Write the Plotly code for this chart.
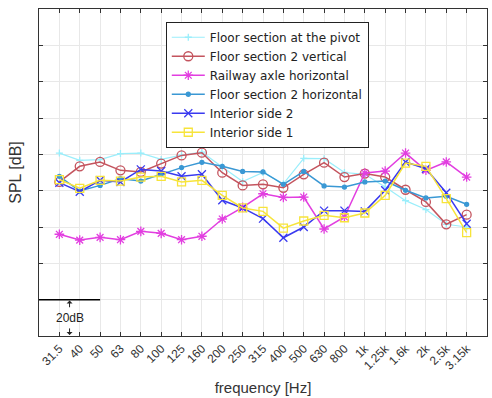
import plotly.graph_objects as go

categories = ["31.5", "40", "50", "63", "80", "100", "125", "160", "200", "250", "315",
              "400", "500", "630", "800", "1k", "1.25k", "1.6k", "2k", "2.5k", "3.15k"]

pivot = [100.7, 96.7, 97.1, 100.4, 100.7, 97.2, 99.6, 101.2, 93.0, 85.0, 90.0,
         83.8, 97.8, 97.6, 90.0, 89.0, 82.0, 74.5, 69.6, 61.5, 60.0]
floor2_vert = [84.8, 93.4, 95.8, 91.2, 90.3, 94.9, 99.4, 100.9, 89.9, 82.9, 83.5,
               81.6, 89.0, 95.4, 87.5, 89.4, 87.5, 80.5, 73.8, 61.5, 66.8]
axle_horiz = [56.0, 52.8, 54.3, 53.0, 57.6, 56.5, 53.0, 54.9, 64.4, 70.8, 78.3,
              76.3, 76.5, 58.9, 65.5, 89.7, 90.8, 100.7, 91.2, 95.8, 87.5]
floor2_horiz = [87.9, 79.8, 82.9, 86.6, 85.3, 89.0, 92.7, 95.6, 93.4, 90.6, 90.3,
                83.5, 90.6, 82.6, 82.0, 84.8, 85.3, 80.2, 76.0, 76.9, 72.5]
interior2 = [84.4, 79.4, 85.7, 84.8, 91.7, 90.8, 87.9, 89.0, 74.7, 70.5, 64.6,
             54.1, 60.0, 69.0, 69.0, 68.6, 80.2, 95.8, 92.1, 78.9, 61.8]
interior1 = [86.1, 81.3, 85.7, 85.3, 87.5, 87.9, 84.8, 85.7, 77.4, 70.5, 68.6,
             59.4, 63.3, 66.4, 65.1, 67.7, 77.4, 95.2, 93.4, 75.6, 56.9]

series = [
    ("Floor section at the pivot", pivot, "#9aeefb", "cross-thin-open", 5, 1.2),
    ("Floor section 2 vertical", floor2_vert, "#c4545e", "circle-open", 9, 1.5),
    ("Railway axle horizontal", axle_horiz, "#e23ee0", "asterisk-open", 8, 1.5),
    ("Floor section 2 horizontal", floor2_horiz, "#3a98d4", "circle", 4, 1.5),
    ("Interior side 2", interior2, "#3a3af0", "x-thin-open", 8, 1.5),
    ("Interior side 1", interior1, "#f7e43a", "square-open", 8, 1.5),
]

fig = go.Figure()
for name, vals, color, sym, size, lw in series:
    fig.add_trace(go.Scatter(
        x=categories, y=vals, name=name, mode="lines+markers",
        line=dict(color=color, width=lw),
        marker=dict(symbol=sym, size=size, color=color, line=dict(color=color, width=1.3)),
    ))

# scale bar (20 dB)
fig.add_shape(type="line", xref="x", yref="y", x0=-1, x1=2, y0=20, y1=20,
              line=dict(color="black", width=1.5))
fig.add_annotation(x=0.5, y=10, xref="x", yref="y", text="20dB", showarrow=False,
                   font=dict(size=12, color="#222"))
fig.add_annotation(x=0.5, y=19.5, ax=0.5, ay=15, xref="x", yref="y", axref="x", ayref="y",
                   text="", showarrow=True, arrowhead=1, arrowsize=1, arrowwidth=1, arrowcolor="#222")
fig.add_annotation(x=0.5, y=0.5, ax=0.5, ay=5, xref="x", yref="y", axref="x", ayref="y",
                   text="", showarrow=True, arrowhead=1, arrowsize=1, arrowwidth=1, arrowcolor="#222")

fig.update_layout(
    width=492, height=398,
    margin=dict(l=39, r=5, t=9, b=62),
    plot_bgcolor="white", paper_bgcolor="white",
    font=dict(family="Liberation Sans, Arial, sans-serif", color="#333"),
    legend=dict(x=0.283, y=0.961, xanchor="left", yanchor="top",
                bgcolor="white", bordercolor="#222", borderwidth=1,
                font=dict(family="DejaVu Sans", size=12, color="#222"), itemwidth=33,
                tracegroupgap=0),
    showlegend=True,
)
fig.update_xaxes(
    type="category", categoryorder="array", categoryarray=categories,
    range=[-1, 21], tickangle=-45, tickfont=dict(size=12, color="#333"),
    showgrid=True, gridcolor="#e8e8e8", gridwidth=1,
    showline=True, linecolor="#333", linewidth=1, mirror="ticks",
    ticks="inside", ticklen=4, tickcolor="#333", automargin=False,
    title=dict(text="frequency [Hz]", font=dict(size=15, color="#333"), standoff=10),
    zeroline=False,
)
fig.update_yaxes(
    range=[0, 180], dtick=20, tick0=0, showticklabels=False,
    showgrid=True, gridcolor="#e8e8e8", gridwidth=1,
    showline=True, linecolor="#333", linewidth=1, mirror="ticks",
    ticks="inside", ticklen=4, tickcolor="#333", automargin=False,
    title=dict(text="SPL [dB]", font=dict(size=16, color="#333"), standoff=12),
    zeroline=False,
)

fig.write_html("out.html", config={"displayModeBar": False},
               post_script="document.body.style.margin='0';")
